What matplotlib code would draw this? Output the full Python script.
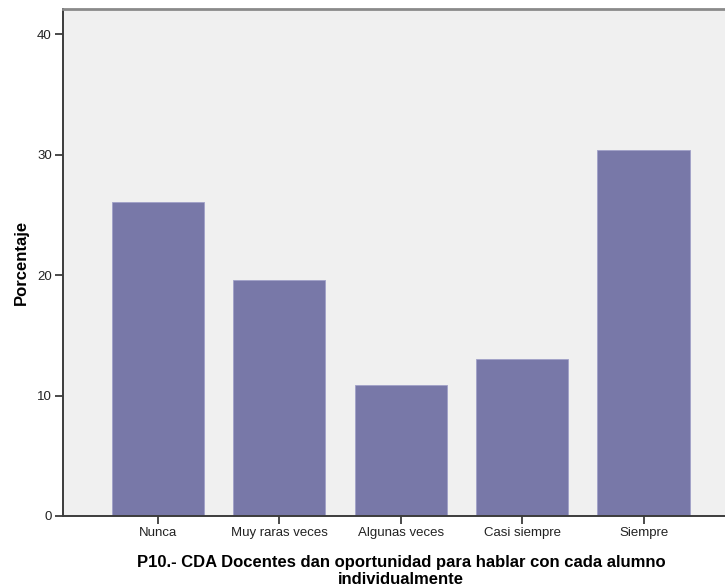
import matplotlib
matplotlib.use("Agg")
import matplotlib.pyplot as plt

# Data
categories = ["Nunca", "Muy raras veces", "Algunas veces", "Casi siempre", "Siempre"]
percentages = [26.1, 19.6, 10.9, 13.0, 30.4]
y_ticks = [0, 10, 20, 30, 40]

plt.rcParams['font.family'] = ['Liberation Sans', 'DejaVu Sans']

bar_color = '#7878a8'
bg_color = '#f0f0f0'
axis_color = '#3c3c3c'

fig = plt.figure(figsize=(7.25, 5.87), dpi=100)
ax = fig.add_axes([63 / 725, 71 / 587, 1 - 63 / 725, (516 - 9) / 587])
ax.set_facecolor(bg_color)

x = range(len(categories))
ax.bar(x, percentages, width=0.76, color=bar_color, edgecolor='#a0a0c8', linewidth=0.6)

ax.set_xlim(-0.78, 4.67)
ax.set_ylim(0, 42.1)
ax.set_xticks(list(x))
ax.set_xticklabels(categories, fontsize=9.5, color='#222222')
ax.set_yticks(y_ticks)
ax.set_yticklabels([str(t) for t in y_ticks], fontsize=9.5, color='#222222')
ax.tick_params(axis='both', direction='out', length=6, width=1.3, color=axis_color, pad=2)

for side in ['left', 'bottom', 'top']:
    ax.spines[side].set_color(axis_color)
    ax.spines[side].set_linewidth(1.4)
ax.spines['top'].set_color('#8a8a8a')
ax.spines['top'].set_linewidth(2)
ax.spines['right'].set_visible(False)

ax.set_ylabel('Porcentaje', fontsize=12, fontweight='bold', labelpad=6)

fig.text(401 / 725, 1 - 563 / 587, 'P10.- CDA Docentes dan oportunidad para hablar con cada alumno',
         ha='center', va='center', fontsize=12, fontweight='bold')
fig.text(401 / 725, 1 - 579 / 587, 'individualmente',
         ha='center', va='center', fontsize=12, fontweight='bold')

fig.savefig('out.png', dpi=100, facecolor='white')
plt.close(fig)
